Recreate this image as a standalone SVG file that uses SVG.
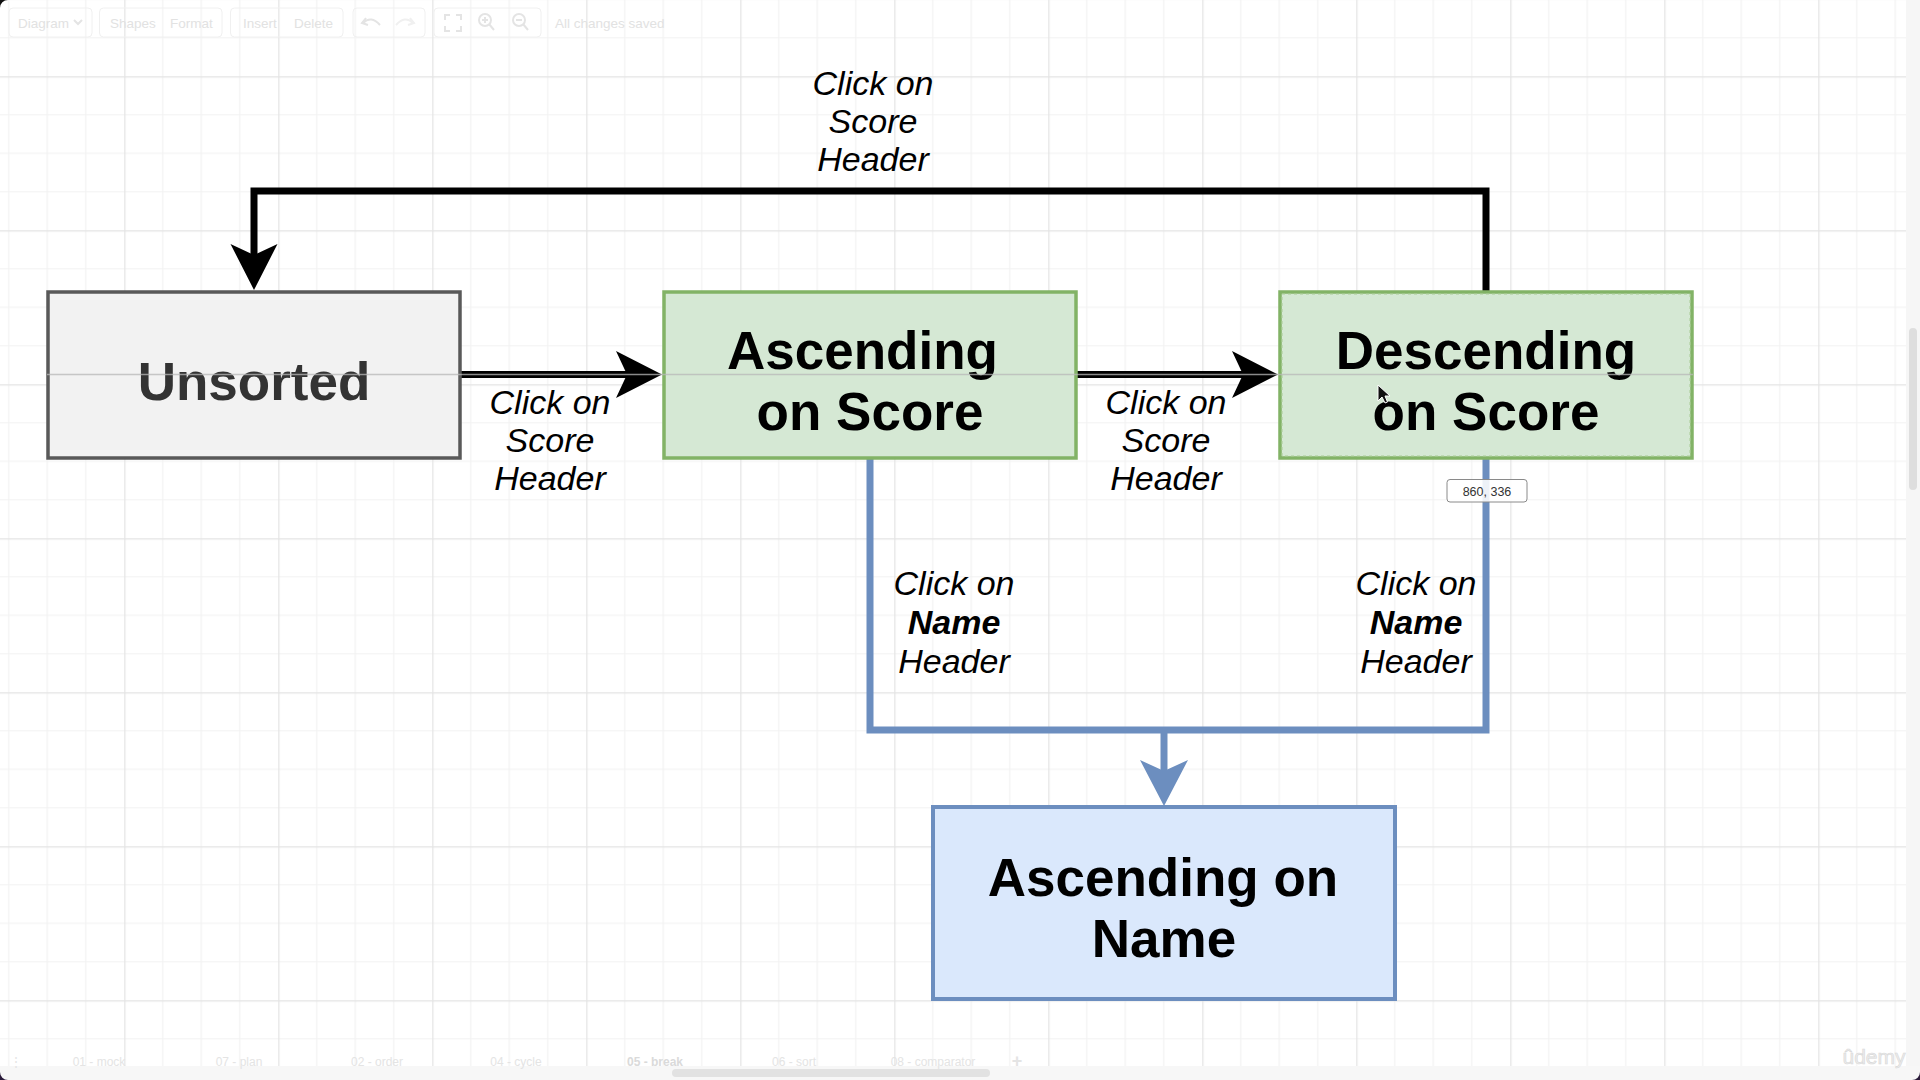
<svg xmlns="http://www.w3.org/2000/svg" width="1920" height="1080" viewBox="0 0 1920 1080">
  <defs>
    <pattern id="grid" patternUnits="userSpaceOnUse" x="-29.7" y="-77.7" width="154" height="154">
      <path d="M38.5 0V154M77 0V154M115.5 0V154M0 38.5H154M0 77H154M0 115.5H154" stroke="#f2f2f2" stroke-width="1.2" fill="none"/>
      <path d="M0.5 0V154M0 0.5H154" stroke="#e3e3e3" stroke-width="1.4" fill="none"/>
    </pattern>
    <marker id="arrBlack" markerUnits="userSpaceOnUse" markerWidth="48" markerHeight="48" viewBox="0 0 48 48" refX="11" refY="23.5" orient="auto">
      <path d="M46 23.5 L0 0 L11 23.5 L0 47 Z" fill="#000"/>
    </marker>
    <marker id="arrBlue" markerUnits="userSpaceOnUse" markerWidth="50" markerHeight="50" viewBox="0 0 50 50" refX="11" refY="24" orient="auto">
      <path d="M46 24 L0 0 L11 24 L0 48 Z" fill="#6c8ebf"/>
    </marker>
  </defs>
  <style>
    .node-text { font-family: "Liberation Sans", Arial, Helvetica, sans-serif; font-weight: bold; font-size: 53px; text-anchor: middle; fill: #000; }
    .lbl { font-family: "Liberation Sans", Arial, Helvetica, sans-serif; font-style: italic; font-size: 34px; text-anchor: middle; fill: #000; }
    .lbl .b { font-weight: bold; }
    .ui { font-family: "Liberation Sans", Arial, Helvetica, sans-serif; font-size: 13.5px; fill: #e2e2e2; }
    .tab { font-family: "Liberation Sans", Arial, Helvetica, sans-serif; font-size: 12px; fill: #e4e4e4; text-anchor: middle; }
    .black-line { fill: none; stroke: #000; stroke-width: 7; stroke-linejoin: miter; }
    .blue-line { fill: none; stroke: #6c8ebf; stroke-width: 7; stroke-linejoin: miter; }
    .btn { fill: none; stroke: #f0f0f0; stroke-width: 1; }
    .icon { fill: none; stroke: #e4e4e4; stroke-width: 2; }
  </style>

  <rect width="1920" height="1080" fill="#ffffff"/>
  <rect width="1920" height="1080" fill="url(#grid)"/>

  <!-- toolbar (faint UI) -->
  <g id="toolbar">
    <rect class="btn" x="9" y="8" width="83" height="29" rx="4"/>
    <text class="ui" x="18" y="28">Diagram</text>
    <path class="icon" d="M74 20 l4 4 l4 -4" stroke-width="1.2"/>
    <rect class="btn" x="99.5" y="8" width="122.5" height="29" rx="4"/>
    <text class="ui" x="110" y="28">Shapes</text>
    <text class="ui" x="170" y="28">Format</text>
    <rect class="btn" x="230.5" y="8" width="112.5" height="29" rx="4"/>
    <text class="ui" x="243" y="28">Insert</text>
    <text class="ui" x="294" y="28">Delete</text>
    <rect class="btn" x="353" y="8" width="72" height="29" rx="4"/>
    <path class="icon" d="M366 18 l-4 5 l6 2 M363 23 q8 -8 17 2"/>
    <path d="M410 18 l4 5 l-6 2 M413 23 q-8 -8 -17 2" fill="none" stroke="#f0f0f0" stroke-width="2"/>
    <rect class="btn" x="434" y="8" width="107" height="29" rx="4"/>
    <path class="icon" d="M445 20 v-5 h5 M456 15 h5 v5 M461 26 v5 h-5 M450 31 h-5 v-5"/>
    <circle class="icon" cx="485" cy="20" r="6"/>
    <path class="icon" d="M489 24 l5 6 M485 17 v6 M482 20 h6"/>
    <circle class="icon" cx="519" cy="20" r="6"/>
    <path class="icon" d="M523 24 l5 6 M516 20 h6"/>
    <text class="ui" x="555" y="28">All changes saved</text>
  </g>

  <!-- connectors -->
  <g id="connectors">
    <path class="black-line" d="M1486 292 V191 H254 V255" marker-end="url(#arrBlack)"/>
    <path class="black-line" d="M460 374.5 H627" marker-end="url(#arrBlack)"/>
    <path class="black-line" d="M1076 374.5 H1243" marker-end="url(#arrBlack)"/>
    <path class="blue-line" d="M870 458 V730 H1486 V458"/>
    <path class="blue-line" d="M1164 730 V771" marker-end="url(#arrBlue)"/>
    <g id="edge-labels">
      <text class="lbl" x="873" y="95">Click on</text>
      <text class="lbl" x="873" y="133">Score</text>
      <text class="lbl" x="873" y="171">Header</text>
      <text class="lbl" x="550" y="414">Click on</text>
      <text class="lbl" x="550" y="452">Score</text>
      <text class="lbl" x="550" y="490">Header</text>
      <text class="lbl" x="1166" y="414">Click on</text>
      <text class="lbl" x="1166" y="452">Score</text>
      <text class="lbl" x="1166" y="490">Header</text>
      <text class="lbl" x="954" y="595">Click on</text>
      <text class="lbl" x="954" y="634"><tspan class="b">Name</tspan></text>
      <text class="lbl" x="954" y="673">Header</text>
      <text class="lbl" x="1416" y="595">Click on</text>
      <text class="lbl" x="1416" y="634"><tspan class="b">Name</tspan></text>
      <text class="lbl" x="1416" y="673">Header</text>
    </g>
  </g>

  <!-- nodes -->
  <g id="node-unsorted">
    <rect x="48" y="292" width="412" height="166" fill="#f2f2f2" stroke="#595959" stroke-width="3.5"/>
    <text class="node-text" x="254" y="400" style="fill:#333333">Unsorted</text>
  </g>
  <g id="node-ascending-score">
    <rect x="664" y="292" width="412" height="166" fill="#d5e8d4" stroke="#82b366" stroke-width="3.5"/>
    <text class="node-text" x="862.5" y="369">Ascending</text>
    <text class="node-text" x="870" y="430">on Score</text>
  </g>
  <g id="node-descending-score">
    <rect x="1280" y="292" width="412" height="166" fill="#d5e8d4" stroke="#82b366" stroke-width="3.5"/>
    <rect x="1282" y="294" width="408" height="162" fill="none" stroke="#a9cc96" stroke-width="1" stroke-dasharray="3 3"/>
    <text class="node-text" x="1486" y="369">Descending</text>
    <text class="node-text" x="1486" y="430">on Score</text>
  </g>
  <g id="node-ascending-name">
    <rect x="933" y="807" width="462" height="192" fill="#dae8fc" stroke="#6c8ebf" stroke-width="4"/>
    <text class="node-text" x="1163" y="896">Ascending on</text>
    <text class="node-text" x="1164" y="957">Name</text>
  </g>

  <!-- alignment guide -->
  <line x1="47" y1="374.5" x2="1693" y2="374.5" stroke="#b8b8b8" stroke-width="1.5" opacity="0.75"/>

  <!-- coordinate tooltip -->
  <g id="tooltip">
    <rect x="1447" y="479.5" width="80" height="22.5" rx="3" fill="#ffffff" fill-opacity="0.88" stroke="#8a8a8a" stroke-width="1"/>
    <text x="1487" y="495.5" text-anchor="middle" font-family="'Liberation Sans', Arial, sans-serif" font-size="12.5" fill="#333">860, 336</text>
  </g>

  <!-- mouse cursor -->
  <path d="M1378 385 L1378 401 L1382 397 L1385 403 L1387.5 402 L1385 396 L1390 396 Z" fill="#111" stroke="#fff" stroke-width="1"/>

  <!-- right scroll strip -->
  <rect x="1906" y="0" width="14" height="1080" fill="#f6f6f6"/>
  <rect x="1909" y="328" width="8" height="162" rx="4" fill="#dedede"/>

  <!-- bottom tab strip -->
  <rect x="0" y="1066" width="1920" height="14" fill="#f7f7f7"/>
  <rect x="672" y="1069" width="318" height="8" rx="4" fill="#e2e2e2"/>
  <g id="tabs">
    <text class="tab" x="16" y="1066">⋮</text>
    <text class="tab" x="99" y="1066">01 - mock</text>
    <text class="tab" x="239" y="1066">07 - plan</text>
    <text class="tab" x="377" y="1066">02 - order</text>
    <text class="tab" x="516" y="1066">04 - cycle</text>
    <text class="tab" x="655" y="1066" style="font-weight:bold;fill:#dadada">05 - break</text>
    <text class="tab" x="794" y="1066">06 - sort</text>
    <text class="tab" x="933" y="1066">08 - comparator</text>
    <text class="tab" x="1017" y="1067" style="font-size:18px;font-weight:bold">+</text>
  </g>

  <!-- watermark -->
  <text x="1874" y="1064" text-anchor="middle" font-family="'Liberation Sans', Arial, sans-serif" font-size="21" fill="#ececec" stroke="#d8d8d8" stroke-width="0.6">ûdemy</text>

  <!-- window corners -->
  <path d="M0 0 H8 A8 8 0 0 0 0 8 Z" fill="#111"/>
  <path d="M0 1080 H8 A8 8 0 0 1 0 1072 Z" fill="#2a1a3a"/>
  <path d="M1920 1080 H1912 A8 8 0 0 0 1920 1072 Z" fill="#2a1a3a"/>
</svg>
